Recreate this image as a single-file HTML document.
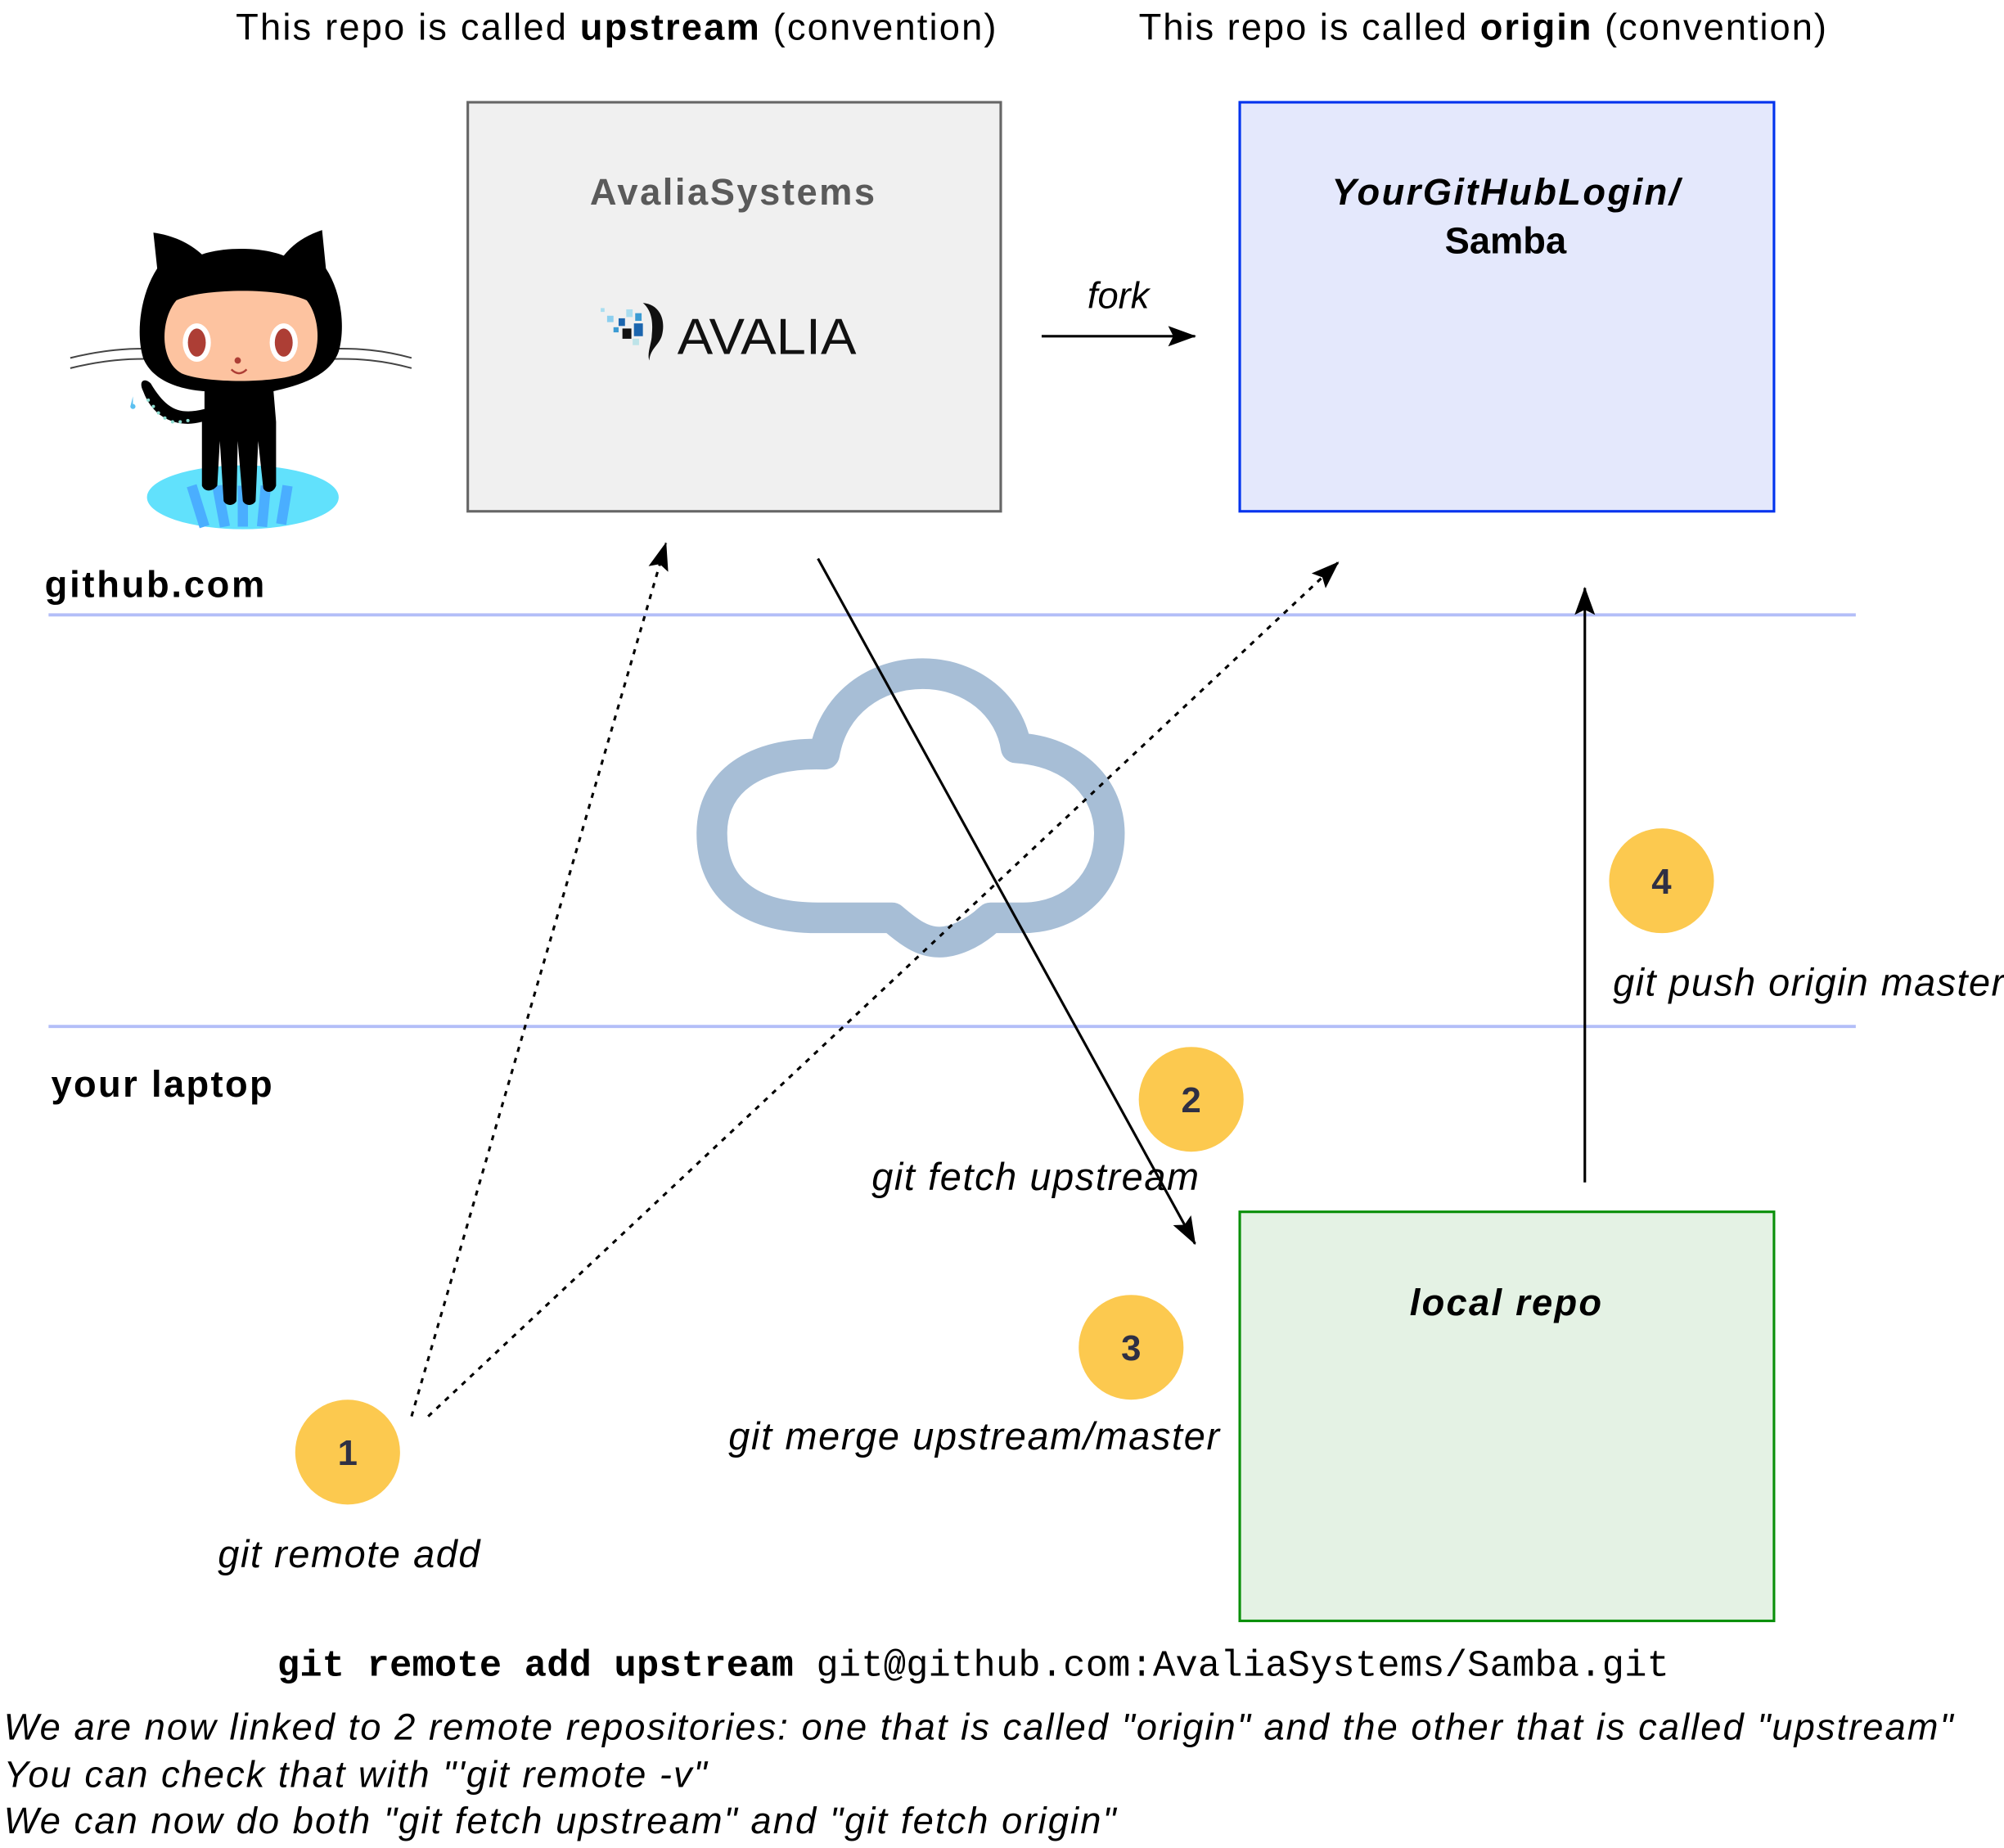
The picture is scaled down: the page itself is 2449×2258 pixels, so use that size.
<!DOCTYPE html>
<html><head><meta charset="utf-8"><style>
html,body{margin:0;padding:0;background:#fff;}
svg{display:block;}
.s{font-family:"Liberation Sans",Arial,sans-serif;}
.m{font-family:"Liberation Mono","DejaVu Sans Mono",monospace;}
</style></head><body>
<svg width="2449" height="2258" viewBox="0 0 2449 2258" xmlns="http://www.w3.org/2000/svg">
<defs>
<marker id="ah" markerWidth="22" markerHeight="16" refX="21" refY="8" orient="auto" markerUnits="userSpaceOnUse">
<path d="M0,0 L22,8 L0,16 L4,8 Z" fill="#000"/>
</marker>
</defs>
<g transform="scale(1.5619)" class="s">
<!-- titles -->
<text x="482" y="31" font-size="29" text-anchor="middle" textLength="595" lengthAdjust="spacing">This repo is called <tspan font-weight="bold">upstream</tspan> (convention)</text>
<text x="1160" y="31" font-size="29" text-anchor="middle" textLength="538" lengthAdjust="spacing">This repo is called <tspan font-weight="bold">origin</tspan> (convention)</text>

<!-- boxes -->
<rect x="366" y="80" width="417" height="320" fill="#F0F0F0" stroke="#666" stroke-width="2"/>
<text x="573" y="160" font-size="29" font-weight="bold" fill="#5a5a5a" text-anchor="middle" textLength="223" lengthAdjust="spacing">AvaliaSystems</text>
<rect x="970" y="80" width="418" height="320" fill="#E4E8FC" stroke="#0033EE" stroke-width="2"/>
<text x="1178" y="160" font-size="29" font-weight="bold" font-style="italic" text-anchor="middle" textLength="272" lengthAdjust="spacing">YourGitHubLogin/</text>
<text x="1178" y="198" font-size="29" font-weight="bold" text-anchor="middle">Samba</text>
<rect x="970" y="948" width="418" height="320" fill="#E4F2E4" stroke="#0A900A" stroke-width="2"/>
<text x="1178" y="1029" font-size="29" font-weight="bold" font-style="italic" text-anchor="middle" textLength="150" lengthAdjust="spacing">local repo</text>

<!-- avalia logo -->
<g>
<rect x="470" y="241" width="3" height="3" fill="#A9DDF0"/>
<rect x="475" y="247" width="5" height="5" fill="#8CCFEF"/>
<rect x="484" y="249" width="5" height="6" fill="#1B65AE"/>
<rect x="490" y="242" width="5" height="6" fill="#A9DDF0"/>
<rect x="497" y="245" width="5" height="6" fill="#3B9BD3"/>
<rect x="480" y="256" width="4" height="4" fill="#3B9BD3"/>
<rect x="487" y="257" width="7" height="8" fill="#111"/>
<rect x="496" y="253" width="7" height="10" fill="#1B65AE"/>
<rect x="495" y="265" width="5" height="5" fill="#BDE3E8"/>
<path d="M503,237 C516,238 521,250 518,262 C516,270 509,272 508,282 C506,276 510,268 510,262 C511,252 510,243 503,237 Z" fill="#111"/>
<text x="530" y="277" font-size="40" textLength="140" lengthAdjust="spacingAndGlyphs" fill="#111" font-weight="normal">AVALIA</text>
</g>

<!-- octocat -->
<g>
<path d="M55,280 C80,274 100,272 125,273 M55,288 C80,282 100,280 125,281" stroke="#444" stroke-width="1.3" fill="none"/>
<path d="M322,280 C300,274 280,272 255,273 M322,288 C300,282 280,280 255,281" stroke="#444" stroke-width="1.3" fill="none"/>
<ellipse cx="190" cy="389" rx="75" ry="25" fill="#61E1FC"/>
<path d="M150,380 L160,412 M170,380 L176,412 M190,380 L190,412 M208,380 L205,412 M225,380 L220,410" stroke="#4AAEFF" stroke-width="8" fill="none"/>
<path d="M120,182 L123,210 C110,230 106,260 112,280 C120,300 145,305 160,306 L160,320 C140,325 130,320 118,300 C113,295 108,298 112,306 C120,328 140,335 158,330 L158,380 C160,385 166,385 170,380 L172,345 L175,392 C177,396 183,396 185,392 L186,345 L190,392 C192,396 198,396 200,392 L202,345 L206,382 C208,386 214,386 216,380 L216,330 L214,306 C232,302 258,295 265,275 C270,258 268,230 255,210 L252,180 C240,184 230,190 222,200 C205,193 175,193 158,199 C148,190 135,184 120,182 Z" fill="#000"/>
<path d="M138,235 C160,225 220,225 240,235 C252,250 252,283 235,292 C215,300 160,300 142,292 C125,283 125,250 138,235 Z" fill="#FDC3A0"/>
<ellipse cx="154" cy="268" rx="11" ry="15" fill="#fff"/>
<ellipse cx="154" cy="268" rx="7" ry="11" fill="#AD3E35"/>
<ellipse cx="222" cy="268" rx="11" ry="15" fill="#fff"/>
<ellipse cx="222" cy="268" rx="7" ry="11" fill="#AD3E35"/>
<circle cx="186" cy="282" r="2.5" fill="#AD3E35"/>
<path d="M181,289 Q187,295 193,289" stroke="#AD3E35" stroke-width="1.5" fill="none"/>
<path d="M104,310 L104,318 L102,318 Z" fill="#5bc0f0"/>
<circle cx="104" cy="318" r="2" fill="#5bc0f0"/>
<g fill="#8DDCD0"><circle cx="116" cy="313" r="1.3"/><circle cx="120" cy="318" r="1.3"/><circle cx="124" cy="323" r="1.3"/><circle cx="129" cy="327" r="1.3"/><circle cx="135" cy="330" r="1.3"/><circle cx="141" cy="330" r="1.3"/><circle cx="147" cy="329" r="1.3"/></g>
</g>

<!-- section labels and lines -->
<text x="35" y="467" font-size="29" font-weight="bold" textLength="172" lengthAdjust="spacing">github.com</text>
<line x1="38" y1="481" x2="1452" y2="481" stroke="#B3BEF8" stroke-width="2.5"/>
<line x1="38" y1="803" x2="1452" y2="803" stroke="#B3BEF8" stroke-width="2.5"/>
<text x="40" y="858" font-size="29" font-weight="bold" textLength="173" lengthAdjust="spacing">your laptop</text>

<!-- cloud -->
<path d="M640,718 C580,718 557,690 557,652 C557,612 590,588 645,590 C652,550 685,527 722,527 C760,527 790,552 795,585 C842,588 868,618 868,652 C868,690 840,718 800,718 L775,718 C760,732 745,737 735,737 C722,737 712,730 698,718 Z" fill="#fff" stroke="#A7BED6" stroke-width="24" stroke-linejoin="round"/>

<!-- fork arrow -->
<line x1="815" y1="263" x2="935" y2="263" stroke="#000" stroke-width="2" marker-end="url(#ah)"/>
<text x="875" y="241" font-size="29" font-style="italic" text-anchor="middle">fork</text>

<!-- dotted arrows -->
<line x1="322" y1="1108" x2="521" y2="425" stroke="#000" stroke-width="2" stroke-dasharray="4,5" marker-end="url(#ah)"/>
<line x1="335" y1="1108" x2="1047" y2="440" stroke="#000" stroke-width="2" stroke-dasharray="4,5" marker-end="url(#ah)"/>
<!-- solid arrows -->
<line x1="640" y1="437" x2="935" y2="973" stroke="#000" stroke-width="2" marker-end="url(#ah)"/>
<line x1="1240" y1="925" x2="1240" y2="460" stroke="#000" stroke-width="2" marker-end="url(#ah)"/>

<!-- circles -->
<g font-size="28" font-weight="bold" fill="#2F3044" text-anchor="middle">
<circle cx="272" cy="1136" r="41" fill="#FCC94F"/><text x="272" y="1146">1</text>
<circle cx="932" cy="860" r="41" fill="#FCC94F"/><text x="932" y="870">2</text>
<circle cx="885" cy="1054" r="41" fill="#FCC94F"/><text x="885" y="1064">3</text>
<circle cx="1300" cy="689" r="41" fill="#FCC94F"/><text x="1300" y="699">4</text>
</g>

<!-- labels -->
<g font-size="30" font-style="italic">
<text x="273" y="1226" text-anchor="middle" textLength="205" lengthAdjust="spacing">git remote add</text>
<text x="810" y="931" text-anchor="middle" textLength="256" lengthAdjust="spacing">git fetch upstream</text>
<text x="762" y="1134" text-anchor="middle" textLength="384" lengthAdjust="spacing">git merge upstream/master</text>
<text x="1262" y="779" textLength="306" lengthAdjust="spacing">git push origin master</text>
</g>

<!-- code line -->
<text x="217" y="1311" font-size="29" class="m" textLength="1089" lengthAdjust="spacing"><tspan font-weight="bold">git remote add upstream</tspan> git@github.com:AvaliaSystems/Samba.git</text>

<!-- bottom notes -->
<g font-size="29" font-style="italic">
<text x="3" y="1361" textLength="1525" lengthAdjust="spacing">We are now linked to 2 remote repositories: one that is called "origin" and the other that is called "upstream"</text>
<text x="3" y="1398" textLength="550" lengthAdjust="spacing">You can check that with "'git remote -v"</text>
<text x="3" y="1434" textLength="870" lengthAdjust="spacing">We can now do both "git fetch upstream" and "git fetch origin"</text>
</g>
</g>
</svg>
</body></html>
